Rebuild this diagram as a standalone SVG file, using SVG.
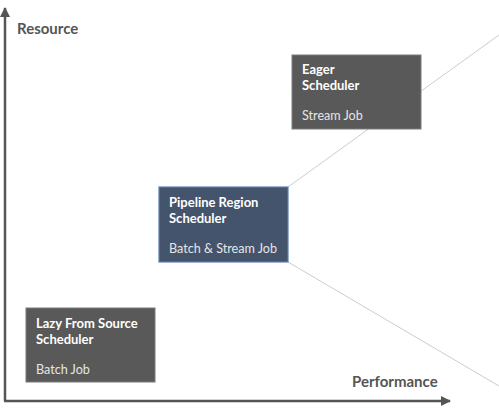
<svg xmlns="http://www.w3.org/2000/svg" width="499" height="416" viewBox="0 0 499 416">
<defs>
<marker id="ah" viewBox="0 0 10 10" refX="9" refY="5" markerWidth="4" markerHeight="4" markerUnits="strokeWidth" orient="auto">
<path d="M0,0 L10,5 L0,10 z" fill="#555555"/>
</marker>
<style>
.axis{stroke:#555555;stroke-width:2.5;fill:none}
.conn{stroke:#cccccc;stroke-width:1;fill:none}
.gray{fill:#595959;stroke:#7a7a7a;stroke-width:1}
.blue{fill:#44546c;stroke:#5d7fb5;stroke-width:1.2}
.t{font-family:Lato,"Liberation Sans",sans-serif;font-size:13px;font-weight:bold;fill:#ffffff}
.s{font-family:Lato,"Liberation Sans",sans-serif;font-size:12.6px;fill:#e6e6e6}
.lbl{font-family:Lato,"Liberation Sans",sans-serif;font-size:15px;font-weight:bold;fill:#555555}
</style>
</defs>
<rect width="499" height="416" fill="#ffffff"/>
<g id="connectors">
<line class="conn" x1="288" y1="187" x2="499" y2="35"/>
<line class="conn" x1="288" y1="262" x2="499" y2="386"/>
</g>
<g id="axes">
<line class="axis" x1="5" y1="401" x2="5" y2="8" marker-end="url(#ah)"/>
<line class="axis" x1="4" y1="401" x2="450" y2="401" marker-end="url(#ah)"/>
<text class="lbl" x="17" y="34">Resource</text>
<text class="lbl" x="352" y="387">Performance</text>
</g>
<g id="eager">
<rect class="gray" x="292" y="55" width="129" height="74"/>
<text class="t" x="302" y="74">Eager</text>
<text class="t" x="302" y="90">Scheduler</text>
<text class="s" x="302" y="120">Stream Job</text>
</g>
<g id="pipeline">
<rect class="blue" x="159" y="187" width="129" height="75"/>
<text class="t" x="169" y="207">Pipeline Region</text>
<text class="t" x="169" y="223">Scheduler</text>
<text class="s" x="169" y="253">Batch &amp; Stream Job</text>
</g>
<g id="lazy">
<rect class="gray" x="26" y="308" width="129" height="74"/>
<text class="t" x="36" y="328">Lazy From Source</text>
<text class="t" x="36" y="344">Scheduler</text>
<text class="s" x="36" y="374">Batch Job</text>
</g>
</svg>
